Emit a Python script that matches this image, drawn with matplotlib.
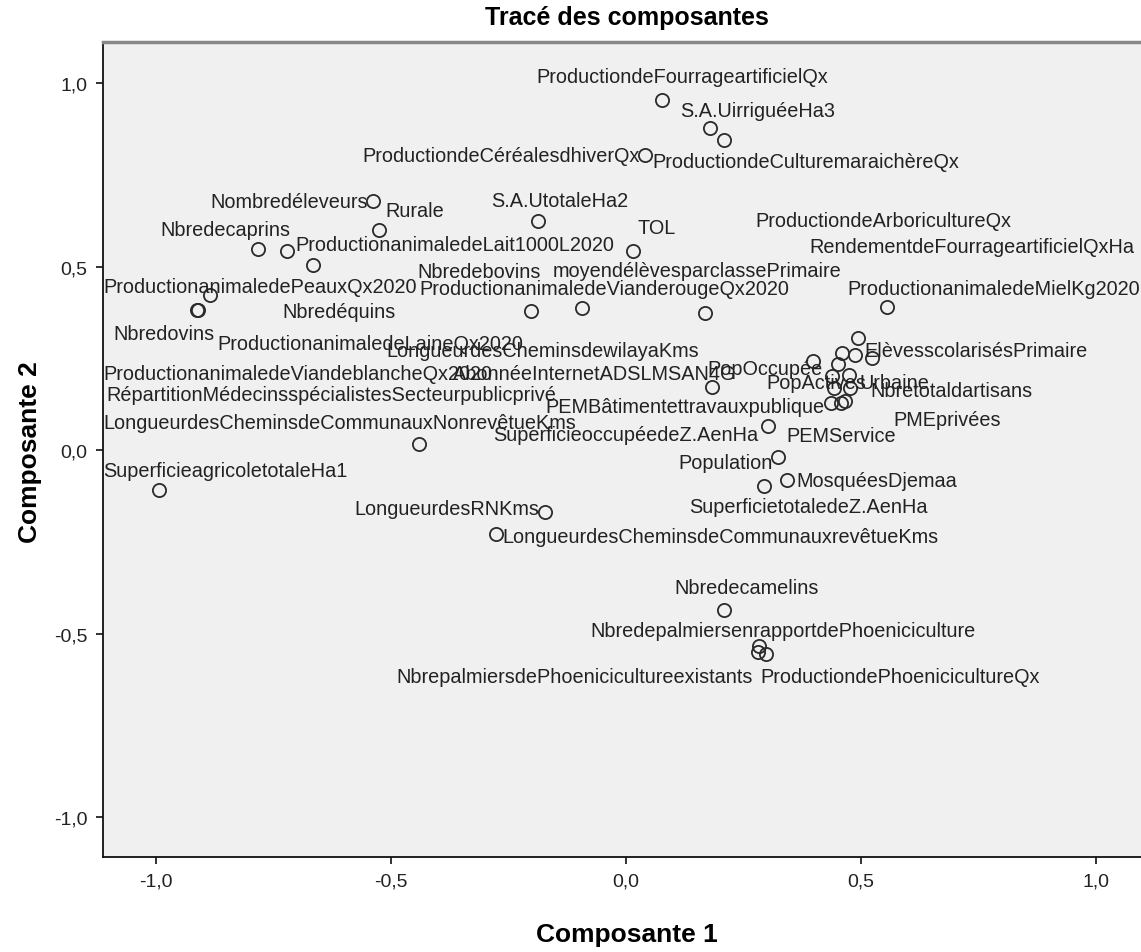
import matplotlib
matplotlib.use("Agg")
import matplotlib.pyplot as plt

plt.rcParams['font.family'] = ['Liberation Sans', 'DejaVu Sans']

# ---- data: component loadings (Composante 1, Composante 2) ----
variables = [
    "ProductiondeFourrageartificielQx", "S.A.UirriguéeHa3", "ProductiondeCulturemaraichèreQx",
    "ProductiondeCéréalesdhiverQx", "Nombredéleveurs", "Rurale", "S.A.UtotaleHa2",
    "ProductiondeArboricultureQx", "Nbredecaprins", "ProductionanimaledeLait1000L2020", "TOL",
    "RendementdeFourrageartificielQxHa", "Nbredebovins", "moyendélèvesparclassePrimaire",
    "ProductionanimaledePeauxQx2020", "ProductionanimaledeVianderougeQx2020",
    "ProductionanimaledeMielKg2020", "Nbredéquins", "LongueurdesCheminsdewilayaKms",
    "PopOccupée", "Nbredovins", "ProductionanimaledeLaineQx2020", "ElèvesscolarisésPrimaire",
    "ProductionanimaledeViandeblancheQx2020", "AbonnéeInternetADSLMSAN4G", "PopActives",
    "Urbaine", "RépartitionMédecinsspécialistesSecteurpublicprivé", "Nbretotaldartisans",
    "PEMBâtimentettravauxpublique", "PMEprivées", "LongueurdesCheminsdeCommunauxNonrevêtueKms",
    "SuperficieoccupéedeZ.AenHa", "PEMService", "Population", "MosquéesDjemaa",
    "SuperficieagricoletotaleHa1", "SuperficietotaledeZ.AenHa", "LongueurdesRNKms",
    "LongueurdesCheminsdeCommunauxrevêtueKms", "Nbredecamelins",
    "NbredepalmiersenrapportdePhoeniciculture", "NbrepalmiersdePhoenicicultureexistants",
    "ProductiondePhoenicicultureQx",
]
comp1 = [0.077, 0.179, 0.209, 0.040, -0.538, -0.526, -0.187, 0.494, -0.783, -0.721, 0.015,
         0.523, -0.202, 0.168, -0.885, -0.094, 0.555, -0.666, 0.398, 0.438, -0.913, -0.911,
         0.460, 0.443, 0.183, 0.474, 0.477, 0.436, 0.487, 0.457, 0.466, -0.440, 0.302, 0.451,
         0.323, 0.343, -0.994, 0.294, -0.172, -0.277, 0.209, 0.283, 0.281, 0.298]
comp2 = [0.954, 0.877, 0.845, 0.804, 0.678, 0.599, 0.624, 0.305, 0.548, 0.542, 0.542,
         0.251, 0.379, 0.373, 0.422, 0.387, 0.390, 0.504, 0.243, 0.202, 0.381, 0.383,
         0.264, 0.169, 0.172, 0.204, 0.169, 0.128, 0.259, 0.128, 0.134, 0.016, 0.065, 0.234,
         -0.019, -0.082, -0.109, -0.098, -0.169, -0.229, -0.436, -0.534, -0.550, -0.556]
tick_values = [-1.0, -0.5, 0.0, 0.5, 1.0]
tick_labels = ["-1,0", "-0,5", "0,0", "0,5", "1,0"]

# ---- label placement (pixel offsets from the point, alignment) ----
label_offsets = [(-126, 24, 'left'), (-30, 18, 'left'), (-72, -21, 'left'), (-5, 0, 'right'),
                 (-5, 0, 'right'), (7, 20, 'left'), (-47, 21, 'left'), (-103, 118, 'left'),
                 (-98, 20, 'left'), (8, 7, 'left'), (4, 24, 'left'), (-62, 112, 'left'),
                 (-114, 40, 'left'), (-152, 43, 'left'), (-107, 9, 'left'), (-162, 20, 'left'),
                 (-39, 19, 'left'), (-31, -46, 'left'), (-427, 11, 'left'), (-124, 8, 'left'),
                 (-84, -23, 'left'), (19, -34, 'left'), (22, 3, 'left'), (-731, 15, 'left'),
                 (-259, 14, 'left'), (-82, -7, 'left'), (9, 6, 'left'), (-724, 9, 'left'),
                 (16, -35, 'left'), (-295, -3, 'left'), (48, -18, 'left'), (-316, 22, 'left'),
                 (-10, -8, 'right'), (-52, -71, 'left'), (-5, -5, 'right'), (9, 0, 'left'),
                 (-56, 20, 'left'), (-75, -20, 'left'), (-6, 4, 'right'), (7, -2, 'left'),
                 (-50, 23, 'left'), (-169, 16, 'left'), (-362, -24, 'left'), (-6, -22, 'left')]

W, H = 1141, 953
fig = plt.figure(figsize=(W / 100, H / 100), dpi=100)
ax = fig.add_axes([103 / W, (H - 858) / H, (W - 103) / W, (858 - 43) / H])
ax.set_facecolor('#f0f0f0')

ax.plot(comp1, comp2, linestyle='none', marker='o', markersize=9.5,
        markerfacecolor='none', markeredgecolor='#2a2a2a', markeredgewidth=1.3)

for name, x, y, (dx, dy, ha) in zip(variables, comp1, comp2, label_offsets):
    ax.annotate(name, (x, y), xytext=(dx, dy), textcoords='offset pixels',
                ha=ha, va='center', fontsize=14.3, color='#222222')

ax.set_xlim(-1.113, 1.096)
ax.set_ylim(-1.108, 1.112)
ax.set_xticks(tick_values)
ax.set_xticklabels(tick_labels)
ax.set_yticks(tick_values)
ax.set_yticklabels(tick_labels)
ax.tick_params(direction='out', length=5, width=1.3, labelsize=14, colors='#222222', pad=6)

for s in ['left', 'bottom']:
    ax.spines[s].set_color('#111111')
    ax.spines[s].set_linewidth(1.3)
ax.spines['top'].set_color('#888888')
ax.spines['top'].set_linewidth(2.5)
ax.spines['right'].set_visible(False)

fig.text(627 / W, 1 - 935 / H, "Composante 1", ha='center', va='center',
         fontsize=19, fontweight='bold')
fig.text(30 / W, 1 - 452 / H, "Composante 2", ha='center', va='center', rotation=90,
         fontsize=19, fontweight='bold')
fig.text(627 / W, 1 - 18 / H, "Tracé des composantes", ha='center', va='center',
         fontsize=18, fontweight='bold')

fig.savefig("out.png", dpi=100)
